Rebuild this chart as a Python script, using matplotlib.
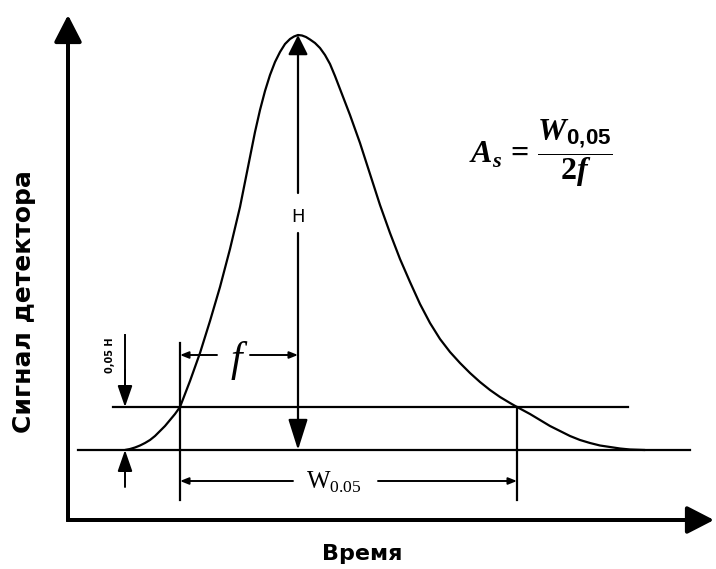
import matplotlib
matplotlib.use("Agg")
import matplotlib.pyplot as plt
import numpy as np

# ---- data (arbitrary units: time, detector signal) ----
time = [57, 62, 67, 72, 77, 82, 87, 92, 97, 102, 107, 112, 122, 132, 142, 152,
        162, 172, 177, 182, 187, 192, 197, 202, 207, 212, 217, 222, 226, 230,
        234, 238, 242, 247, 252, 257, 262, 267, 272, 282, 292, 302, 312, 322,
        332, 342, 352, 362, 372, 382, 392, 402, 412, 422, 432, 442, 449, 462,
        472, 482, 492, 502, 512, 522, 532, 542, 552, 562, 577]
signal = [70, 71, 72.5, 74.5, 77, 80, 84, 89, 94, 100, 106, 113, 139, 167, 199,
          233, 271, 313, 338, 363, 388, 410, 429, 445, 458, 468, 476, 481, 483.5,
          485, 484.5, 483, 480.5, 477, 472, 465, 456, 444, 431, 405, 377, 346,
          315, 287, 261, 238, 216, 197, 181, 168, 157, 147, 138, 130, 123, 117,
          113, 106, 100, 94, 89, 84, 80, 77, 74.5, 73, 71.5, 70.5, 70]

baseline_level = 70      # baseline signal
level_005 = 113          # 0.05 H level (schematic)
t_front = 112            # front crossing of the 0.05H level
t_back = 449             # back crossing of the 0.05H level

x_label = "Время"
y_label = "Сигнал детектора"

# ---- figure ----
fig = plt.figure(figsize=(7.16, 5.69), dpi=100)
ax = fig.add_axes([0, 0, 1, 1])
ax.set_xlim(-68, 648)
ax.set_ylim(-49, 520)
ax.axis("off")

K = "black"

def arrow(x0, y0, x1, y1, hl, hw, lw=1.5, ms=10):
    ax.annotate("", xy=(x1, y1), xytext=(x0, y0),
                arrowprops=dict(arrowstyle=f"-|>,head_length={hl},head_width={hw}",
                                color=K, lw=lw, shrinkA=0, shrinkB=0,
                                mutation_scale=ms))

# axes with arrows
ax.plot([0, 0, 620], [480, 0, 0], color=K, lw=2.8, solid_joinstyle="miter",
        solid_capstyle="butt")
arrow(0, 0, 0, 505, 1.65, 0.85, lw=2.8)
arrow(0, 0, 646, 0, 1.65, 0.85, lw=2.8)

# peak
peak_i = int(np.argmax(signal))
t_peak = time[peak_i]
s_peak = signal[peak_i]
ax.plot(time, signal, color=K, lw=1.6, solid_capstyle="round",
        solid_joinstyle="round")

# horizontal lines
ax.plot([10, 622], [baseline_level, baseline_level], color=K, lw=1.6)
ax.plot([45, 560], [level_005, level_005], color=K, lw=1.6)

# vertical lines at crossings
ax.plot([t_front, t_front], [20, 177], color=K, lw=1.6)
ax.plot([t_back, t_back], [20, level_005], color=K, lw=1.6)

# H arrow
arrow(t_peak, 327, t_peak, s_peak, 1.2, 0.6, lw=1.6)
arrow(t_peak, 287, t_peak, baseline_level, 1.9, 0.6, lw=1.6)
ax.text(t_peak, 303, "H", ha="center", va="center", fontsize=13,
        family="DejaVu Sans")

# f arrow
fy = 165
arrow(149, fy, t_front, fy, 0.5, 0.2, lw=1.4)
arrow(182, fy, t_peak, fy, 0.5, 0.2, lw=1.4)
ax.text(168, 160, "f", ha="center", va="center", fontsize=30,
        family="Liberation Serif", style="italic")

# W0.05 arrow
wy = 39
arrow(225, wy, t_front, wy, 0.5, 0.2, lw=1.4)
arrow(310, wy, t_back, wy, 0.5, 0.2, lw=1.4)
ax.text(266, 38, r"W$_{\mathregular{0.05}}$", ha="center", va="center",
        fontsize=18, family="Liberation Serif")

# 0.05H arrows
ax.plot([57, 57], [185, level_005 + 5], color=K, lw=1.4)
arrow(57, 150, 57, level_005, 1.3, 0.45, lw=1.4)
arrow(57, 33, 57, baseline_level, 1.3, 0.45, lw=1.4)
ax.text(42, 165, "0,05 H", rotation=90, ha="center", va="center",
        fontsize=7, family="DejaVu Sans", weight="bold")

# formula
plt.rcParams["mathtext.fontset"] = "custom"
plt.rcParams["mathtext.it"] = "Liberation Serif:italic:bold"
plt.rcParams["mathtext.rm"] = "Liberation Serif:bold"
plt.rcParams["mathtext.sf"] = "Liberation Sans:bold"
ax.text(401, 367, r"$A_s\,=\,\dfrac{W_{\mathsf{0{,}05}}}{2f}$", ha="left",
        va="center", fontsize=23, math_fontfamily="custom")

# axis labels
ax.text(-44, 218, y_label, rotation=90, ha="center", va="center",
        fontsize=18, family="DejaVu Sans", weight="bold")
ax.text(294, -34, x_label, ha="center", va="center", fontsize=16,
        family="DejaVu Sans", weight="bold")

fig.savefig("out.png", dpi=100, facecolor="white")
